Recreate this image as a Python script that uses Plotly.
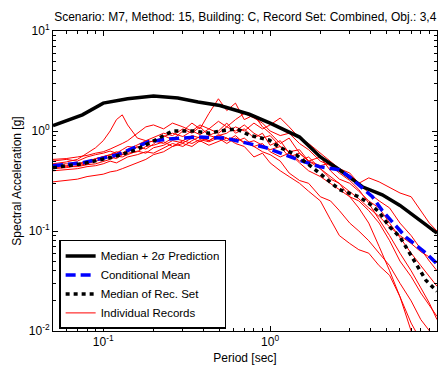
import numpy as np
import plotly.graph_objects as go

# Period grid shared by the individual ground-motion records [sec]
rec_periods = [0.05, 0.06, 0.07, 0.08, 0.09, 0.1, 0.11, 0.12, 0.13, 0.14, 0.16, 0.18, 0.2,
               0.23, 0.26, 0.3, 0.34, 0.38, 0.43, 0.49, 0.55, 0.62, 0.7, 0.8, 0.9, 1.0,
               1.15, 1.3, 1.5, 1.7, 2.0, 2.3, 2.6, 3.0, 3.4, 3.9, 4.5, 5.2, 6.0, 7.0,
               8.0, 9.0, 10.0]

# Spectral accelerations of the individual records [g]
rec_1 = [0.47, 0.49, 0.52, 0.60, 0.68, 0.80, 1.00, 1.30, 1.45, 1.15, 0.85, 0.80, 0.86,
         0.95, 0.90, 1.05, 0.95, 1.10, 0.90, 1.00, 1.20, 0.95, 1.05, 0.85, 0.95, 0.72,
         0.80, 0.60, 0.50, 0.55, 0.42, 0.33, 0.30, 0.22, 0.20, 0.16, 0.12, 0.08, 0.05,
         0.035, 0.024, 0.018, 0.014]
rec_2 = [0.44, 0.45, 0.47, 0.50, 0.52, 0.55, 0.57, 0.60, 0.58, 0.62, 0.70, 0.66, 0.74,
         0.90, 0.82, 1.00, 1.20, 1.05, 1.50, 2.10, 1.60, 1.90, 1.30, 1.45, 1.10, 0.95,
         0.75, 0.85, 0.60, 0.50, 0.55, 0.40, 0.33, 0.30, 0.25, 0.20, 0.17, 0.12, 0.085,
         0.06, 0.045, 0.035, 0.028]
rec_3 = [0.50, 0.52, 0.50, 0.55, 0.58, 0.60, 0.63, 0.60, 0.65, 0.70, 0.68, 0.75, 0.80,
         0.75, 0.85, 0.80, 0.90, 0.85, 0.80, 0.90, 0.95, 1.10, 1.00, 1.20, 1.05, 1.15,
         1.35, 1.10, 0.85, 0.75, 0.60, 0.50, 0.42, 0.38, 0.30, 0.24, 0.20, 0.17, 0.12,
         0.09, 0.065, 0.05, 0.04]
rec_4 = [0.42, 0.43, 0.45, 0.47, 0.50, 0.52, 0.55, 0.53, 0.58, 0.60, 0.62, 0.70, 0.72,
         0.78, 0.70, 0.80, 0.75, 0.82, 0.78, 0.85, 0.80, 0.90, 0.75, 0.80, 0.72, 0.65,
         0.70, 0.55, 0.60, 0.50, 0.45, 0.48, 0.40, 0.36, 0.30, 0.34, 0.31, 0.27, 0.24,
         0.22, 0.16, 0.12, 0.10]
rec_5 = [0.31, 0.32, 0.33, 0.35, 0.36, 0.37, 0.39, 0.40, 0.42, 0.44, 0.48, 0.52, 0.58,
         0.62, 0.70, 0.75, 0.70, 0.80, 0.72, 0.78, 0.85, 0.75, 0.70, 0.55, 0.60, 0.48,
         0.40, 0.35, 0.30, 0.25, 0.20, 0.13, 0.09, 0.075, 0.065, 0.06, 0.045, 0.036,
         0.022, 0.010, 0.006, 0.004, 0.003]
rec_6 = [0.46, 0.47, 0.46, 0.49, 0.53, 0.56, 0.58, 0.62, 0.60, 0.65, 0.72, 0.80, 0.78,
         0.88, 0.95, 0.88, 1.00, 0.92, 1.05, 0.95, 1.10, 1.00, 1.15, 0.95, 0.85, 0.90,
         0.70, 0.62, 0.65, 0.50, 0.42, 0.35, 0.30, 0.25, 0.21, 0.17, 0.14, 0.11, 0.09,
         0.075, 0.062, 0.055, 0.048]
rec_7 = [0.43, 0.44, 0.44, 0.46, 0.47, 0.50, 0.52, 0.56, 0.55, 0.58, 0.63, 0.60, 0.68,
         0.72, 0.80, 0.76, 0.85, 0.78, 0.90, 0.85, 0.75, 0.85, 0.78, 0.70, 0.75, 0.62,
         0.55, 0.60, 0.48, 0.40, 0.35, 0.30, 0.26, 0.22, 0.17, 0.12, 0.07, 0.04, 0.022,
         0.012, 0.008, 0.006, 0.004]
rec_8 = [0.52, 0.53, 0.55, 0.57, 0.60, 0.62, 0.66, 0.70, 0.75, 0.80, 0.95, 1.10, 1.15,
         1.05, 1.20, 1.10, 1.00, 1.15, 1.05, 1.25, 1.10, 1.30, 1.50, 1.35, 1.20, 1.00,
         0.90, 0.95, 0.75, 0.65, 0.50, 0.45, 0.38, 0.32, 0.26, 0.19, 0.13, 0.09, 0.06,
         0.04, 0.027, 0.019, 0.013]
rec_9 = [0.40, 0.41, 0.42, 0.44, 0.45, 0.47, 0.50, 0.48, 0.52, 0.55, 0.58, 0.62, 0.60,
         0.68, 0.75, 0.70, 0.80, 0.88, 0.80, 0.92, 0.85, 0.78, 0.85, 0.70, 0.62, 0.58,
         0.50, 0.38, 0.32, 0.30, 0.22, 0.20, 0.16, 0.12, 0.10, 0.08, 0.06, 0.045, 0.03,
         0.02, 0.013, 0.010, 0.008]
records = [rec_1, rec_2, rec_3, rec_4, rec_5, rec_6, rec_7, rec_8, rec_9]

# Median + 2 sigma prediction
pred_periods = [0.05, 0.075, 0.1, 0.14, 0.2, 0.28, 0.37, 0.5, 0.75, 1.0, 1.5, 2.0,
                2.6, 3.6, 4.7, 6.0, 8.6, 10.0]
pred_sa = [1.13, 1.45, 1.9, 2.1, 2.24, 2.14, 1.95, 1.8, 1.47, 1.2, 0.87, 0.55,
           0.41, 0.275, 0.23, 0.18, 0.115, 0.095]

# Conditional mean spectrum
cms_periods = [0.05, 0.075, 0.12, 0.157, 0.187, 0.24, 0.37, 0.54, 0.95, 1.5, 1.97,
               2.6, 2.98, 4.1, 4.7, 6.5, 8.6, 10.0]
cms_sa = [0.45, 0.48, 0.575, 0.69, 0.78, 0.83, 0.87, 0.85, 0.68, 0.51, 0.44,
          0.41, 0.35, 0.22, 0.16, 0.087, 0.06, 0.047]

# Median of the selected record set
med_periods = [0.05, 0.075, 0.12, 0.157, 0.19, 0.26, 0.35, 0.43, 0.5, 0.63, 0.75,
               0.99, 1.13, 1.43, 1.97, 2.6, 3.4, 3.9, 4.5, 5.2, 6.0, 6.5, 8.6, 10.0]
med_sa = [0.43, 0.47, 0.56, 0.65, 0.76, 1.0, 1.0, 0.95, 1.0, 1.05, 0.91,
          0.81, 0.69, 0.58, 0.38, 0.26, 0.22, 0.19, 0.155, 0.11, 0.087, 0.07, 0.032, 0.025]

fig = go.Figure()

for i, rec in enumerate(records):
    fig.add_trace(go.Scatter(
        x=rec_periods, y=rec, mode="lines",
        line=dict(color="#FF0000", width=1),
        name="Individual Records", showlegend=(i == 0), legendrank=4,
    ))

fig.add_trace(go.Scatter(
    x=pred_periods, y=pred_sa, mode="lines",
    line=dict(color="black", width=3.5),
    name="Median + 2σ Prediction", legendrank=1,
))
fig.add_trace(go.Scatter(
    x=cms_periods, y=cms_sa, mode="lines",
    line=dict(color="#0000FF", width=3.5, dash="10px,5px"),
    name="Conditional Mean", legendrank=2,
))
fig.add_trace(go.Scatter(
    x=med_periods, y=med_sa, mode="lines",
    line=dict(color="black", width=3.5, dash="4px,4px"),
    name="Median of Rec. Set", legendrank=3,
))

def minor_vals(lo_exp, hi_exp):
    vals = []
    for e in range(lo_exp, hi_exp):
        for m in range(2, 10):
            vals.append(m * 10.0 ** e)
    return vals

x_minor = [v for v in minor_vals(-2, 1) if 0.05 <= v <= 10]
y_minor = minor_vals(-2, 1)

font_name = "Liberation Sans, Arial, sans-serif"

fig.update_xaxes(
    type="log", range=[np.log10(0.05), 1],
    tickvals=[0.1, 1, 10], ticktext=["10<sup>-1</sup>", "10<sup>0</sup>", "10<sup>1</sup>"],
    ticks="inside", ticklen=5, tickcolor="black", tickwidth=1,
    minor=dict(tickvals=x_minor, ticks="inside", ticklen=3, tickcolor="black", showgrid=False),
    showline=True, linecolor="black", linewidth=1, mirror="ticks",
    showgrid=False, zeroline=False,
    title=dict(text="Period [sec]", font=dict(size=12, color="black"), standoff=5),
    tickfont=dict(size=12, color="black"),
)
fig.update_yaxes(
    type="log", range=[-2, 1],
    tickvals=[0.01, 0.1, 1, 10],
    ticktext=["10<sup>-2</sup>", "10<sup>-1</sup>", "10<sup>0</sup>", "10<sup>1</sup>"],
    ticks="inside", ticklen=5, tickcolor="black", tickwidth=1,
    minor=dict(tickvals=y_minor, ticks="inside", ticklen=3, tickcolor="black", showgrid=False),
    showline=True, linecolor="black", linewidth=1, mirror="ticks",
    showgrid=False, zeroline=False,
    title=dict(text="Spectral Acceleration [g]", font=dict(size=12, color="black"), standoff=4),
    tickfont=dict(size=12, color="black"),
)

fig.update_layout(
    width=438, height=368,
    margin=dict(l=53, r=1, t=31, b=37),
    paper_bgcolor="white", plot_bgcolor="white",
    font=dict(family=font_name, color="black"),
    title=dict(
        text="Scenario: M7, Method: 15, Building: C, Record Set: Combined, Obj.: 3,4",
        font=dict(size=12, color="black"), x=0.56, xanchor="center", y=0.955, yanchor="middle",
    ),
    legend=dict(
        x=0.016, y=0.007, xanchor="left", yanchor="bottom",
        bgcolor="white", bordercolor="black", borderwidth=1.5,
        font=dict(size=11.5, color="black"), tracegroupgap=0,
        itemwidth=30,
    ),
    showlegend=True,
)

fig.write_html("out.html")
